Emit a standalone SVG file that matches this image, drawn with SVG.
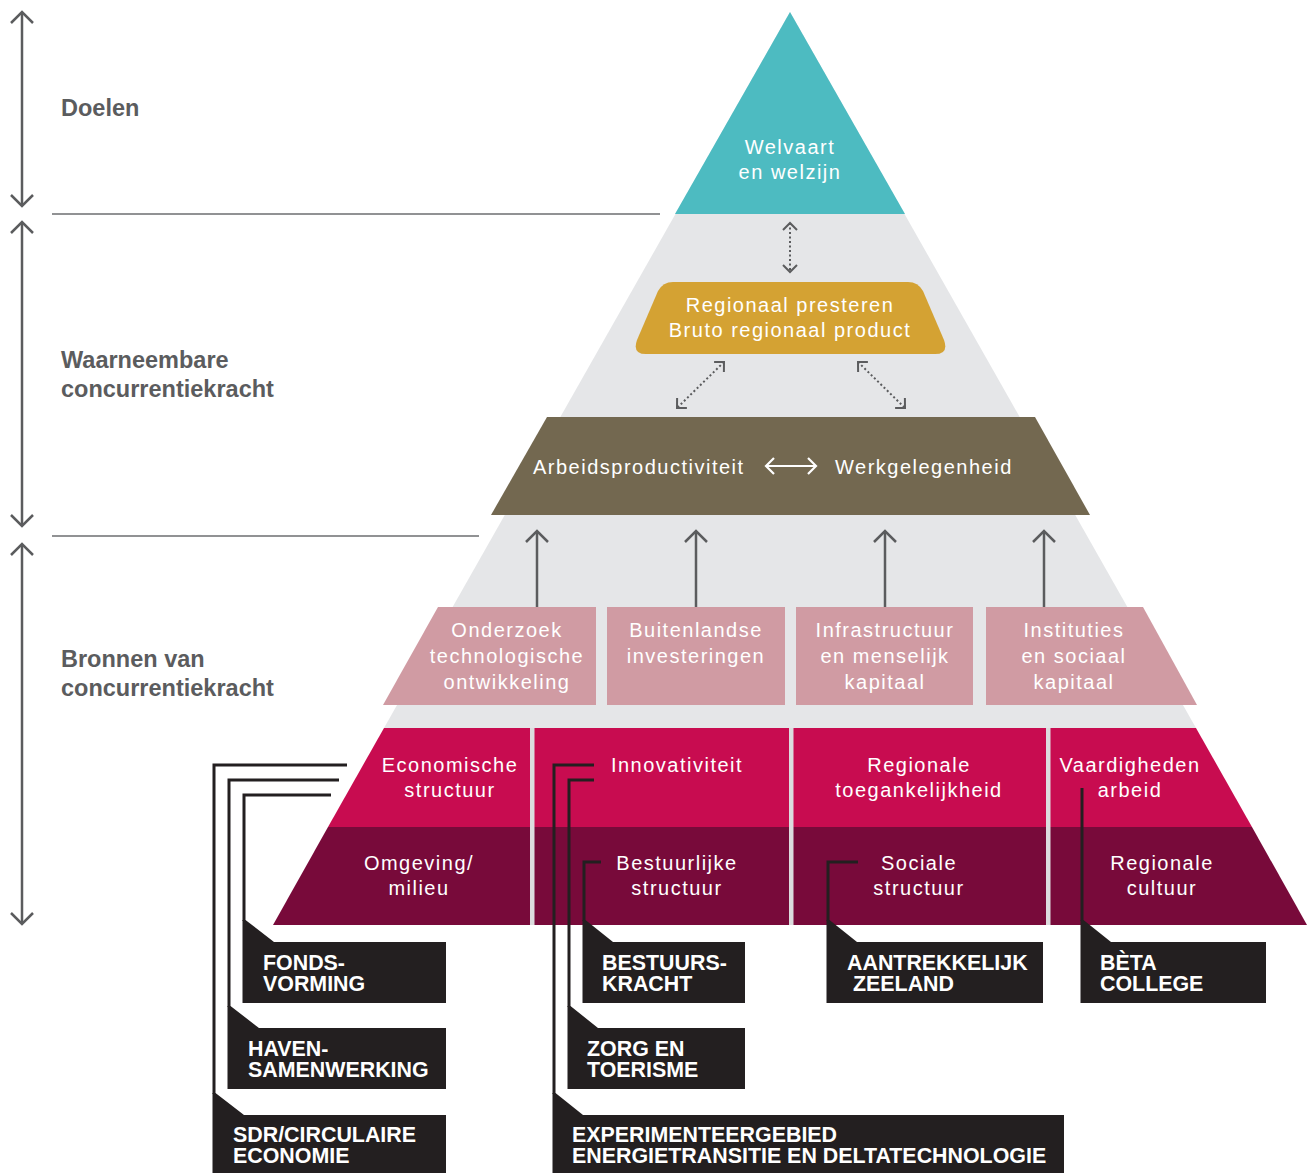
<svg xmlns="http://www.w3.org/2000/svg" width="1312" height="1173" viewBox="0 0 1312 1173">
<style>
.pt{font-family:"Liberation Sans",Arial,sans-serif;font-size:20px;fill:#fff;letter-spacing:1.5px;text-anchor:middle}
.hd{font-family:"Liberation Sans",Arial,sans-serif;font-size:23.5px;font-weight:bold;fill:#5b5c5e}
.bx{font-family:"Liberation Sans",Arial,sans-serif;font-size:21.4px;font-weight:bold;fill:#fff}
.lbl{fill:#231f20}
.ln{fill:none;stroke:#231f20;stroke-width:3}
.ga{fill:none;stroke:#5b5c5e;stroke-width:2.5}
.dot{fill:none;stroke:#5b5c5e;stroke-width:2;stroke-dasharray:2 2.5}
.sep{stroke:#6d6e70;stroke-width:1.5}
</style>
<defs>
<marker id="mL" markerUnits="userSpaceOnUse" markerWidth="40" markerHeight="40" refX="20" refY="20" orient="auto-start-reverse" overflow="visible">
<path d="M9,9 L20,20 L9,31" fill="none" stroke="#5b5c5e" stroke-width="2.5"/>
</marker>
<marker id="mS" markerUnits="userSpaceOnUse" markerWidth="40" markerHeight="40" refX="20" refY="20" orient="auto-start-reverse" overflow="visible">
<path d="M13,13 L20,20 L13,27" fill="none" stroke="#5b5c5e" stroke-width="2"/>
</marker>
<marker id="mW" markerUnits="userSpaceOnUse" markerWidth="40" markerHeight="40" refX="20" refY="20" orient="auto-start-reverse" overflow="visible">
<path d="M12,12 L20,20 L12,28" fill="none" stroke="#fff" stroke-width="2.2"/>
</marker>
</defs>
<rect width="1312" height="1173" fill="#fff"/>

<g id="background">
<polygon points="790,12 1196,728 384,728" fill="#e5e6e8"/>
<line class="sep" x1="52" y1="214" x2="660" y2="214"/>
<line class="sep" x1="52" y1="536" x2="479" y2="536"/>
</g>

<g id="headings">
<text class="hd" x="61" y="116">Doelen</text>
<text class="hd" x="61" y="368">Waarneembare</text>
<text class="hd" x="61" y="397">concurrentiekracht</text>
<text class="hd" x="61" y="667">Bronnen van</text>
<text class="hd" x="61" y="696">concurrentiekracht</text>
</g>

<g id="node-welvaart">
<polygon points="790,12 905,214 675,214" fill="#4dbbc1"/>
<text class="pt" x="790" y="154">Welvaart</text>
<text class="pt" x="790" y="179">en welzijn</text>
</g>

<g id="node-regionaal">
<path d="M673,282 H908 Q918,282 923,291 L944,340 Q949,354 935,354 H646 Q632,354 637,340 L658,291 Q663,282 673,282 Z" fill="#d4a233"/>
<text class="pt" x="790" y="312">Regionaal presteren</text>
<text class="pt" x="790" y="337">Bruto regionaal product</text>
</g>

<g id="node-arbeid">
<polygon points="547,417 1035,417 1090,515 491,515" fill="#736850"/>
<text class="pt" x="533" y="474" style="text-anchor:start">Arbeidsproductiviteit</text>
<text class="pt" x="835" y="474" style="text-anchor:start">Werkgelegenheid</text>
</g>

<g id="node-onderzoek">
<polygon points="438,607 596,607 596,705 383,705" fill="#d09ba3"/>
<text class="pt" x="507" y="637">Onderzoek</text>
<text class="pt" x="507" y="663">technologische</text>
<text class="pt" x="507" y="689">ontwikkeling</text>
</g>
<g id="node-buitenlandse">
<rect x="607" y="607" width="178" height="98" fill="#d09ba3"/>
<text class="pt" x="696" y="637">Buitenlandse</text>
<text class="pt" x="696" y="663">investeringen</text>
</g>
<g id="node-infrastructuur">
<rect x="796" y="607" width="177" height="98" fill="#d09ba3"/>
<text class="pt" x="885" y="637">Infrastructuur</text>
<text class="pt" x="885" y="663">en menselijk</text>
<text class="pt" x="885" y="689">kapitaal</text>
</g>
<g id="node-instituties">
<polygon points="986,607 1143,607 1197,705 986,705" fill="#d09ba3"/>
<text class="pt" x="1074" y="637">Instituties</text>
<text class="pt" x="1074" y="663">en sociaal</text>
<text class="pt" x="1074" y="689">kapitaal</text>
</g>

<g id="bands">
<polygon points="384,728 1196,728 1252,827 328,827" fill="#c80c50"/>
<polygon points="328,827 1252,827 1307,925 273,925" fill="#780a3a"/>
<rect x="530" y="728" width="4.5" height="197" fill="#dcdcde"/>
<rect x="789" y="728" width="4.5" height="197" fill="#dcdcde"/>
<rect x="1046" y="728" width="4.5" height="197" fill="#dcdcde"/>
</g>
<g id="node-economische"><text class="pt" x="450" y="772">Economische</text><text class="pt" x="450" y="797">structuur</text></g>
<g id="node-innovativiteit"><text class="pt" x="677" y="772">Innovativiteit</text></g>
<g id="node-toegankelijkheid"><text class="pt" x="919" y="772">Regionale</text><text class="pt" x="919" y="797">toegankelijkheid</text></g>
<g id="node-vaardigheden"><text class="pt" x="1130" y="772">Vaardigheden</text><text class="pt" x="1130" y="797">arbeid</text></g>
<g id="node-omgeving"><text class="pt" x="419" y="870">Omgeving/</text><text class="pt" x="419" y="895">milieu</text></g>
<g id="node-bestuurlijke"><text class="pt" x="677" y="870">Bestuurlijke</text><text class="pt" x="677" y="895">structuur</text></g>
<g id="node-sociale"><text class="pt" x="919" y="870">Sociale</text><text class="pt" x="919" y="895">structuur</text></g>
<g id="node-cultuur"><text class="pt" x="1162" y="870">Regionale</text><text class="pt" x="1162" y="895">cultuur</text></g>

<g id="connectors">
<line class="ga" x1="22" y1="12" x2="22" y2="206" marker-start="url(#mL)" marker-end="url(#mL)"/>
<line class="ga" x1="22" y1="222" x2="22" y2="526" marker-start="url(#mL)" marker-end="url(#mL)"/>
<line class="ga" x1="22" y1="544" x2="22" y2="924" marker-start="url(#mL)" marker-end="url(#mL)"/>
<line class="dot" x1="790" y1="223" x2="790" y2="272" marker-start="url(#mS)" marker-end="url(#mS)"/>
<line class="dot" x1="724" y1="362" x2="677" y2="408" marker-start="url(#mS)" marker-end="url(#mS)"/>
<line class="dot" x1="858" y1="362" x2="905" y2="408" marker-start="url(#mS)" marker-end="url(#mS)"/>
<line x1="766" y1="466" x2="816" y2="466" stroke="#fff" stroke-width="2.2" marker-start="url(#mW)" marker-end="url(#mW)"/>
<line class="ga" x1="537" y1="607" x2="537" y2="531" marker-end="url(#mL)"/>
<line class="ga" x1="696" y1="607" x2="696" y2="531" marker-end="url(#mL)"/>
<line class="ga" x1="885" y1="607" x2="885" y2="531" marker-end="url(#mL)"/>
<line class="ga" x1="1044" y1="607" x2="1044" y2="531" marker-end="url(#mL)"/>
<path class="ln" d="M347,765 H214 V1094"/>
<path class="ln" d="M339,780 H229 V1007"/>
<path class="ln" d="M331,795 H244 V921"/>
<path class="ln" d="M594,765 H554 V1094"/>
<path class="ln" d="M594,780 H569 V1007"/>
<path class="ln" d="M601,862 H584 V921"/>
<path class="ln" d="M858,862 H828 V921"/>
<path class="ln" d="M1082,788 V921"/>
</g>

<g id="label-fondsvorming">
<polygon class="lbl" points="242.5,920 245.5,920 274,942 446,942 446,1003 242.5,1003"/>
<text class="bx"><tspan x="263" y="970">FONDS-</tspan><tspan x="263" y="991">VORMING</tspan></text>
</g>
<g id="label-havensamenwerking">
<polygon class="lbl" points="227.5,1006 230.5,1006 259,1028 446,1028 446,1089 227.5,1089"/>
<text class="bx"><tspan x="248" y="1056">HAVEN-</tspan><tspan x="248" y="1077">SAMENWERKING</tspan></text>
</g>
<g id="label-sdr">
<polygon class="lbl" points="212.5,1093 215.5,1093 244,1115 446,1115 446,1173 212.5,1173"/>
<text class="bx"><tspan x="233" y="1142">SDR/CIRCULAIRE</tspan><tspan x="233" y="1163">ECONOMIE</tspan></text>
</g>
<g id="label-bestuurskracht">
<polygon class="lbl" points="582.5,920 585.5,920 613,942 745,942 745,1003 582.5,1003"/>
<text class="bx"><tspan x="602" y="970">BESTUURS-</tspan><tspan x="602" y="991">KRACHT</tspan></text>
</g>
<g id="label-zorg">
<polygon class="lbl" points="567.5,1006 570.5,1006 598,1028 745,1028 745,1089 567.5,1089"/>
<text class="bx"><tspan x="587" y="1056">ZORG EN</tspan><tspan x="587" y="1077">TOERISME</tspan></text>
</g>
<g id="label-experimenteergebied">
<polygon class="lbl" points="552.5,1093 555.5,1093 583,1115 1064,1115 1064,1173 552.5,1173"/>
<text class="bx"><tspan x="572" y="1142">EXPERIMENTEERGEBIED</tspan><tspan x="572" y="1163">ENERGIETRANSITIE EN DELTATECHNOLOGIE</tspan></text>
</g>
<g id="label-aantrekkelijk">
<polygon class="lbl" points="826.5,920 829.5,920 857,942 1043,942 1043,1003 826.5,1003"/>
<text class="bx"><tspan x="847" y="970">AANTREKKELIJK</tspan><tspan x="853" y="991">ZEELAND</tspan></text>
</g>
<g id="label-beta">
<polygon class="lbl" points="1080.5,920 1083.5,920 1111,942 1266,942 1266,1003 1080.5,1003"/>
<text class="bx"><tspan x="1100" y="970">BÈTA</tspan><tspan x="1100" y="991">COLLEGE</tspan></text>
</g>
</svg>
